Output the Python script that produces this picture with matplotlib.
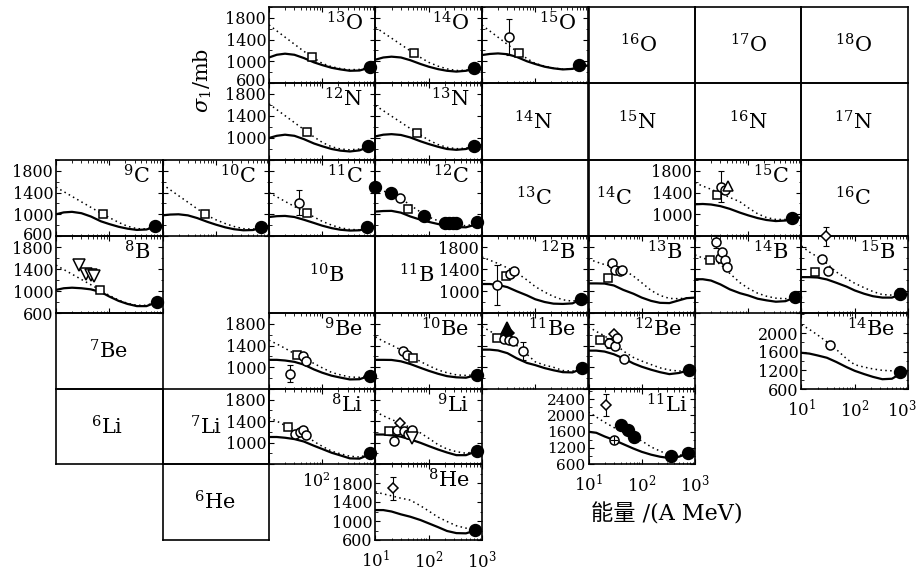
"""
plot.py - interaction cross sections on a chart of nuclides
"""

import matplotlib
matplotlib.use("Agg")
import matplotlib.pyplot as plt
import matplotlib.transforms as mtransforms
from matplotlib.ticker import MultipleLocator, LogLocator, FixedLocator, NullFormatter

plt.rcParams['font.family'] = ['DejaVu Serif', 'Noto Sans CJK SC']
plt.rcParams['mathtext.fontset'] = 'dejavuserif'

#============================================
# DATA  (energy in A MeV, sigma in mb)
#============================================

E_CURVE = [10, 14, 20, 30, 45, 70, 100, 150, 220, 330, 500, 700, 1000]

# points: (data set, energy, sigma, error)
O13_SOLID = [1070, 1120, 1140, 1120, 1060, 980, 930, 880, 850, 825, 830, 870, 900]
O13_DOTTED = [1670, 1560, 1445, 1315, 1185, 1060, 960, 900, 865, 845, 850, 880, 905]
O13_POINTS = [("sq", 64, 1084, 0), ("fc", 790, 900, 0)]

O14_SOLID = [1030, 1070, 1085, 1070, 1020, 950, 900, 855, 825, 810, 825, 860, 880]
O14_DOTTED = [1625, 1528, 1426, 1309, 1192, 1070, 980, 910, 860, 830, 835, 865, 885]
O14_POINTS = [("sq", 53, 1146, 0), ("fc", 700, 870, 0)]

O15_SOLID = [1115, 1135, 1145, 1130, 1080, 1000, 950, 900, 870, 850, 860, 900, 925]
O15_DOTTED = [1667, 1558, 1443, 1312, 1180, 1050, 960, 910, 875, 855, 865, 900, 925]
O15_POINTS = [("oc", 32, 1441, 330), ("sq", 50, 1146, 0), ("fc", 650, 931, 0)]

N12_SOLID = [1000, 1040, 1060, 1040, 980, 900, 850, 800, 770, 755, 775, 830, 860]
N12_DOTTED = [1620, 1516, 1406, 1280, 1155, 1020, 920, 840, 800, 785, 800, 840, 865]
N12_POINTS = [("sq", 51, 1116, 0), ("fc", 730, 853, 0)]

N13_SOLID = [1030, 1060, 1070, 1055, 1010, 940, 890, 840, 800, 785, 800, 845, 870]
N13_DOTTED = [1590, 1497, 1397, 1285, 1172, 1055, 960, 880, 830, 805, 815, 850, 875]
N13_POINTS = [("sq", 59, 1097, 0), ("fc", 700, 860, 0)]

C9_SOLID = [1000, 1035, 1045, 1020, 960, 870, 820, 770, 735, 712, 720, 765, 790]
C9_DOTTED = [1500, 1417, 1329, 1229, 1129, 1020, 940, 850, 780, 735, 730, 770, 795]
C9_POINTS = [("sq", 76, 1000, 0), ("fc", 710, 780, 0)]

C10_SOLID = [980, 995, 1000, 980, 930, 860, 810, 760, 725, 705, 710, 750, 780]
C10_DOTTED = [1550, 1450, 1343, 1222, 1100, 975, 900, 830, 775, 735, 725, 760, 785]
C10_POINTS = [("sq", 63, 1000, 0), ("fc", 720, 770, 0)]

C11_SOLID = [950, 965, 970, 950, 900, 840, 790, 745, 715, 700, 705, 740, 765]
C11_DOTTED = [1400, 1322, 1238, 1144, 1050, 950, 870, 800, 750, 720, 715, 745, 770]
C11_POINTS = [("oc", 37, 1210, 230), ("sq", 51, 1020, 0), ("fc", 700, 760, 0)]

C12_SOLID = [1050, 1060, 1063, 1030, 960, 900, 860, 820, 790, 765, 760, 800, 840]
C12_DOTTED = [1510, 1430, 1370, 1290, 1170, 1040, 950, 880, 830, 800, 790, 815, 845]
C12_POINTS = [("fc", 10, 1510, 0), ("fc", 19.6, 1384, 0), ("oc", 29, 1300, 0),
              ("sq", 40.5, 1096, 0), ("fc", 83, 967, 0), ("fc", 200, 840, 0),
              ("fc", 240, 840, 0), ("fc", 280, 835, 0), ("fc", 330, 840, 0),
              ("fc", 790, 850, 0)]

C15_SOLID = [1184, 1190, 1180, 1150, 1100, 1030, 980, 930, 895, 875, 885, 925, 940]
C15_DOTTED = [1580, 1520, 1460, 1390, 1310, 1230, 1120, 1010, 940, 905, 905, 935, 945]
C15_POINTS = [("sq", 26.3, 1364, 0), ("oc", 30.5, 1510, 290), ("oc", 36.8, 1445, 0),
              ("tu", 42.5, 1517, 0), ("fc", 670, 940, 0)]

B8_SOLID = [1020, 1050, 1060, 1050, 1030, 980, 900, 820, 765, 725, 725, 780, 810]
B8_DOTTED = [1470, 1390, 1306, 1210, 1115, 1010, 920, 835, 775, 740, 740, 785, 815]
B8_POINTS = [("tv", 27.5, 1470, 0), ("tv", 37, 1310, 0), ("tv", 45, 1300, 0),
             ("tv", 52, 1280, 0), ("sq", 67, 1020, 0), ("fc", 790, 809, 0)]

B12_SOLID = [1127, 1127, 1110, 1070, 995, 920, 850, 800, 770, 765, 775, 840, 875]
B12_DOTTED = [1618, 1560, 1500, 1420, 1330, 1200, 1080, 980, 900, 840, 815, 850, 875]
B12_POINTS = [("oc", 18.9, 1108, 370), ("sq", 28, 1265, 0), ("oc", 33.7, 1315, 0),
              ("oc", 40, 1365, 0), ("fc", 730, 855, 0)]

B13_SOLID = [1138, 1138, 1135, 1100, 1020, 950, 880, 820, 785, 780, 830, 870, 880]
B13_DOTTED = [1580, 1530, 1480, 1440, 1390, 1270, 1150, 1010, 920, 865, 860, 875, 880]
B13_POINTS = [("sq", 23.4, 1232, 0), ("oc", 27.8, 1505, 0), ("oc", 32, 1390, 0),
              ("oc", 38.6, 1372, 0), ("oc", 43, 1390, 0)]

B14_SOLID = [1214, 1214, 1190, 1120, 1030, 960, 919, 860, 830, 805, 815, 870, 890]
B14_DOTTED = [1656, 1600, 1550, 1490, 1320, 1150, 1050, 960, 905, 870, 860, 880, 890]
B14_POINTS = [("sq", 19, 1567, 0), ("oc", 24.6, 1894, 120), ("oc", 29.3, 1592, 0),
              ("oc", 31.5, 1718, 0), ("oc", 37.3, 1567, 0), ("oc", 40.6, 1440, 0),
              ("fc", 760, 886, 0)]

B15_SOLID = [1252, 1252, 1245, 1210, 1150, 1080, 1010, 950, 905, 880, 880, 930, 940]
B15_DOTTED = [1818, 1710, 1620, 1500, 1346, 1230, 1140, 1060, 990, 935, 925, 945, 950]
B15_POINTS = [("sq", 18.2, 1346, 0), ("oc", 24, 1586, 0), ("dia", 28.6, 1996, 170),
              ("oc", 31.7, 1359, 0), ("fc", 700, 949, 100)]

BE9_SOLID = [1137, 1137, 1125, 1100, 1050, 960, 900, 845, 810, 776, 780, 830, 860]
BE9_DOTTED = [1498, 1430, 1350, 1250, 1170, 1070, 990, 905, 860, 820, 815, 845, 860]
BE9_POINTS = [("oc", 24.9, 884, 160), ("sq", 33.3, 1228, 0), ("oc", 42.6, 1199, 0),
              ("oc", 49.5, 1119, 0), ("fc", 800, 848, 0)]

BE10_SOLID = [1137, 1137, 1135, 1110, 1060, 990, 935, 880, 837, 815, 808, 845, 866]
BE10_DOTTED = [1560, 1480, 1410, 1320, 1220, 1105, 1030, 950, 900, 860, 850, 860, 866]
BE10_POINTS = [("oc", 33.5, 1300, 0), ("oc", 38.8, 1228, 0), ("sq", 50.5, 1180, 0),
               ("fc", 790, 856, 0)]

BE11_SOLID = [1325, 1325, 1310, 1260, 1165, 1080, 1040, 985, 945, 910, 905, 960, 982]
BE11_DOTTED = [1746, 1670, 1570, 1490, 1400, 1240, 1100, 1040, 1000, 940, 930, 965, 982]
BE11_POINTS = [("sq", 19, 1547, 0), ("oc", 25.8, 1523, 0), ("ftu", 29.5, 1715, 0),
               ("fdia", 30.5, 1625, 0), ("oc", 32, 1505, 0), ("oc", 39, 1487, 0),
               ("oc", 58, 1295, 170), ("fc", 760, 982, 0)]

BE12_SOLID = [1307, 1307, 1290, 1240, 1165, 1070, 1010, 955, 910, 874, 895, 935, 946]
BE12_DOTTED = [1746, 1660, 1580, 1450, 1300, 1180, 1115, 1050, 990, 950, 930, 940, 946]
BE12_POINTS = [("sq", 16.7, 1505, 0), ("oc", 24, 1444, 90), ("dia", 30, 1607, 0),
               ("oc", 31.6, 1397, 0), ("oc", 34, 1547, 0), ("oc", 45.7, 1144, 0),
               ("fc", 780, 946, 0)]

BE14_SOLID = [1576, 1560, 1520, 1470, 1380, 1270, 1190, 1120, 1060, 1010, 1020, 1120, 1186]
BE14_DOTTED = [2176, 2080, 1960, 1810, 1650, 1450, 1320, 1270, 1230, 1200, 1190, 1190, 1190]
BE14_POINTS = [("oc", 34, 1752, 40), ("fc", 700, 1165, 60)]

LI8_SOLID = [1104, 1104, 1090, 1065, 1020, 940, 880, 810, 760, 705, 700, 760, 790]
LI8_DOTTED = [1468, 1400, 1320, 1240, 1170, 1020, 930, 840, 790, 745, 730, 770, 790]
LI8_POINTS = [("sq", 23.2, 1286, 0), ("oc", 31, 1164, 0), ("oc", 38.5, 1206, 0),
              ("oc", 44.3, 1236, 0), ("oc", 50, 1146, 0), ("fc", 800, 800, 0)]

LI9_SOLID = [1151, 1150, 1135, 1110, 1060, 995, 935, 870, 815, 765, 765, 820, 849]
LI9_DOTTED = [1577, 1500, 1430, 1360, 1280, 1180, 1080, 960, 880, 830, 800, 830, 849]
LI9_POINTS = [("sq", 17.7, 1224, 0), ("oc", 22, 1031, 60), ("oc", 25.6, 1242, 0),
              ("dia", 28.4, 1364, 0), ("oc", 34.6, 1213, 0), ("oc", 40, 1151, 0),
              ("oc", 49, 1242, 0), ("tv", 49, 1091, 0), ("fc", 790, 849, 0)]

LI11_SOLID = [1596, 1570, 1480, 1392, 1290, 1180, 1100, 1030, 980, 946, 980, 1050, 1068]
LI11_DOTTED = [2083, 1960, 1830, 1700, 1580, 1460, 1370, 1220, 1120, 1020, 1010, 1060, 1068]
LI11_POINTS = [("dia", 21.3, 2261, 265), ("ocx", 30.7, 1392, 0), ("fc", 41, 1774, 0),
               ("fc", 55, 1635, 0), ("fc", 70, 1475, 0), ("fc", 360, 988, 0),
               ("fc", 740, 1068, 0)]

HE8_SOLID = [1230, 1230, 1200, 1140, 1090, 1020, 950, 870, 790, 745, 740, 790, 810]
HE8_DOTTED = [1614, 1570, 1530, 1480, 1440, 1320, 1210, 1080, 990, 900, 850, 820, 810]
HE8_POINTS = [("dia", 21.7, 1686, 245), ("fc", 750, 810, 0)]

# y tick labels shown on some panels
YTICKS_STD = [600, 1000, 1400, 1800]
YLABELS_SHOWN = {
    "13O": [600, 1000, 1400, 1800], "12N": [1000, 1400, 1800],
    "9C": [600, 1000, 1400, 1800], "8B": [600, 1000, 1400, 1800],
    "9Be": [1000, 1400, 1800], "8Li": [1000, 1400, 1800],
    "8He": [600, 1000, 1400, 1800], "12B": [1000, 1400, 1800],
    "15C": [1000, 1400, 1800],
}
# panels with a compressed axis: tick positions and the labels printed on them
BE14_YTICKS = [800, 1200, 1600, 2000]
BE14_YTICKLABELS = ["600", "1200", "1600", "2000"]
LI11_YTICKS = [800, 1200, 1600, 2000, 2400]
LI11_YTICKLABELS = ["600", "1200", "1600", "2000", "2400"]
X_TICKS = [10, 100, 1000]

#============================================
# LAYOUT (pixel grid of the chart)
#============================================

W, H = 920, 573
COL_EDGES = [56, 162.5, 269, 375.5, 482, 588.5, 695, 801.5, 908]
ROW_EDGES = [7, 83, 160, 236, 313, 389, 464, 540]

DATA_PANELS = [
    ("13O", 0, 2, O13_SOLID, O13_DOTTED, O13_POINTS),
    ("14O", 0, 3, O14_SOLID, O14_DOTTED, O14_POINTS),
    ("15O", 0, 4, O15_SOLID, O15_DOTTED, O15_POINTS),
    ("12N", 1, 2, N12_SOLID, N12_DOTTED, N12_POINTS),
    ("13N", 1, 3, N13_SOLID, N13_DOTTED, N13_POINTS),
    ("9C", 2, 0, C9_SOLID, C9_DOTTED, C9_POINTS),
    ("10C", 2, 1, C10_SOLID, C10_DOTTED, C10_POINTS),
    ("11C", 2, 2, C11_SOLID, C11_DOTTED, C11_POINTS),
    ("12C", 2, 3, C12_SOLID, C12_DOTTED, C12_POINTS),
    ("15C", 2, 6, C15_SOLID, C15_DOTTED, C15_POINTS),
    ("8B", 3, 0, B8_SOLID, B8_DOTTED, B8_POINTS),
    ("12B", 3, 4, B12_SOLID, B12_DOTTED, B12_POINTS),
    ("13B", 3, 5, B13_SOLID, B13_DOTTED, B13_POINTS),
    ("14B", 3, 6, B14_SOLID, B14_DOTTED, B14_POINTS),
    ("15B", 3, 7, B15_SOLID, B15_DOTTED, B15_POINTS),
    ("9Be", 4, 2, BE9_SOLID, BE9_DOTTED, BE9_POINTS),
    ("10Be", 4, 3, BE10_SOLID, BE10_DOTTED, BE10_POINTS),
    ("11Be", 4, 4, BE11_SOLID, BE11_DOTTED, BE11_POINTS),
    ("12Be", 4, 5, BE12_SOLID, BE12_DOTTED, BE12_POINTS),
    ("14Be", 4, 7, BE14_SOLID, BE14_DOTTED, BE14_POINTS),
    ("8Li", 5, 2, LI8_SOLID, LI8_DOTTED, LI8_POINTS),
    ("9Li", 5, 3, LI9_SOLID, LI9_DOTTED, LI9_POINTS),
    ("11Li", 5, 5, LI11_SOLID, LI11_DOTTED, LI11_POINTS),
    ("8He", 6, 3, HE8_SOLID, HE8_DOTTED, HE8_POINTS),
]

LABEL_CELLS = [
    ("16O", 0, 5, 0.47), ("17O", 0, 6, 0.5), ("18O", 0, 7, 0.49),
    ("14N", 1, 4, 0.48), ("15N", 1, 5, 0.46), ("16N", 1, 6, 0.5), ("17N", 1, 7, 0.49),
    ("13C", 2, 4, 0.49), ("14C", 2, 5, 0.24), ("16C", 2, 7, 0.48),
    ("10B", 3, 2, 0.54), ("11B", 3, 3, 0.39),
    ("7Be", 4, 0, 0.49), ("6Li", 5, 0, 0.48), ("7Li", 5, 1, 0.41), ("6He", 6, 1, 0.49),
]

X_AXIS_PANELS = ["14Be", "11Li", "8He"]
# panels whose bottom "600" label sits on top of the panel below it
RAISED_600 = ["13O", "9C"]

MARKERS = {
    "sq": dict(marker='s', ms=5.5, mfc='white'),
    "oc": dict(marker='o', ms=6.5, mfc='white'),
    "fc": dict(marker='o', ms=8.5, mfc='black'),
    "tv": dict(marker='v', ms=8, mfc='white'),
    "tu": dict(marker='^', ms=7, mfc='white'),
    "dia": dict(marker='D', ms=5.5, mfc='white'),
    "ftu": dict(marker='^', ms=8, mfc='black'),
    "fdia": dict(marker='D', ms=6, mfc='black'),
    "ocx": dict(marker='o', ms=6.5, mfc='white'),
}


def nuclide(name):
    mass = ''.join(ch for ch in name if ch.isdigit())
    elem = ''.join(ch for ch in name if ch.isalpha())
    return r"$^{%s}\mathrm{%s}$" % (mass, elem)


def cell_axes(row, col):
    x0, x1 = COL_EDGES[col], COL_EDGES[col + 1]
    y0, y1 = ROW_EDGES[row], ROW_EDGES[row + 1]
    ax = fig.add_axes([x0 / W, 1 - y1 / H, (x1 - x0) / W, (y1 - y0) / H])
    ax.set_facecolor('none')
    for sp in ax.spines.values():
        sp.set_linewidth(1.2)
    return ax


def nudge(text, dx_px, dy_px):
    text.set_transform(text.get_transform() +
                       mtransforms.ScaledTranslation(dx_px / 100, dy_px / 100,
                                                     fig.dpi_scale_trans))


#============================================
# DRAW
#============================================

fig = plt.figure(figsize=(W / 100, H / 100), dpi=100)

# label-only cells
for name, row, col, xf in LABEL_CELLS:
    ax = cell_axes(row, col)
    ax.set_xticks([])
    ax.set_yticks([])
    ax.text(xf, 0.5, nuclide(name), transform=ax.transAxes,
            ha='center', va='center', fontsize=15)

# panels with curves and data
for name, row, col, solid, dotted, points in DATA_PANELS:
    ax = cell_axes(row, col)
    ax.plot(E_CURVE, solid, color='black', lw=1.6, zorder=2)
    ax.plot(E_CURVE, dotted, color='black', lw=1.1, ls=(0, (1, 2.2)), zorder=2)

    for kind, e, s, err in points:
        if err:
            ax.errorbar(e, s, yerr=err, fmt='none', ecolor='black',
                        elinewidth=0.8, capsize=2.5, capthick=0.8,
                        zorder=3, clip_on=False)
        ax.plot(e, s, linestyle='none', mec='black', mew=1.1,
                zorder=5, clip_on=False, **MARKERS[kind])
        if kind == "ocx":
            ax.plot(e, s, marker='+', ms=5.5, mew=0.8, color='black',
                    zorder=6, clip_on=False)

    ax.set_xscale('log')
    ax.set_xlim(10, 1000)
    ax.xaxis.set_major_locator(FixedLocator(X_TICKS))
    ax.xaxis.set_minor_locator(LogLocator(base=10, subs=range(2, 10), numticks=20))
    ax.xaxis.set_minor_formatter(NullFormatter())

    if name == "14Be":
        ax.set_ylim(800, 2430)
        ax.set_yticks(BE14_YTICKS)
        ax.set_yticklabels(BE14_YTICKLABELS)
    elif name == "11Li":
        ax.set_ylim(800, 2650)
        ax.set_yticks(LI11_YTICKS)
        ax.set_yticklabels(LI11_YTICKLABELS)
    else:
        ax.set_ylim(600, 2200 if name == "8He" else 2000)
        shown = YLABELS_SHOWN.get(name, [])
        ax.set_yticks(YTICKS_STD)
        ax.set_yticklabels([str(t) if t in shown else "" for t in YTICKS_STD])
    ax.yaxis.set_minor_locator(MultipleLocator(200))

    ax.tick_params(which='both', direction='in', top=True, right=True)
    ax.tick_params(which='major', length=3.5, width=0.8)
    ax.tick_params(which='minor', length=1.8, width=0.6)
    ax.tick_params(axis='y', labelsize=11.5, pad=2)
    ax.tick_params(axis='x', labelsize=12, pad=7,
                   labelbottom=name in X_AXIS_PANELS)
    if name == "11Li":
        ax.tick_params(axis='y', labelsize=11)
    if name not in YLABELS_SHOWN and name not in ("14Be", "11Li"):
        ax.tick_params(axis='y', labelleft=False)

    if name == "14Be":
        # the last label sits at the right edge of the page: nudge it left
        nudge(ax.xaxis.get_major_ticks()[-1].label1, -6, 0)
    if name in RAISED_600:
        nudge(ax.yaxis.get_major_ticks()[0].label1, 0, 3)

    lab_x = 0.93 if name == "11Li" else 0.88
    ax.text(lab_x, 0.69, nuclide(name), transform=ax.transAxes,
            ha='right', va='baseline', fontsize=15)

# axis titles and the stray tick label
fig.text(203 / W, 1 - 80 / H, r"$\sigma_1/\mathrm{mb}$", rotation=90,
         ha='center', va='center', fontsize=15)
fig.text(667 / W, 1 - 514 / H, "能量 /(A MeV)", ha='center', va='center',
         fontsize=16)
fig.text(316 / W, 1 - 482 / H, r"$10^2$", ha='center', va='center', fontsize=11.5)

fig.savefig('out.png', dpi=100, facecolor='white')
print("saved out.png")
